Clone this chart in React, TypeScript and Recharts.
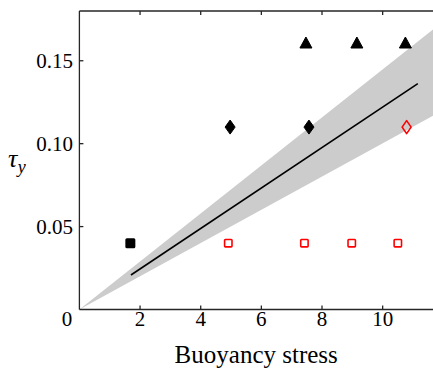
import React from 'react';
import { ComposedChart, XAxis, YAxis, Scatter, Line, Area } from 'recharts';

const xTicks = [0, 2, 4, 6, 8, 10];
const xTopTicks = [2, 4, 6, 8, 10];
const yTicks = [0.05, 0.1, 0.15];

const blackSquares = [{ x: 1.68, y: 0.04 }];
const blackDiamonds = [
  { x: 4.97, y: 0.11 },
  { x: 7.57, y: 0.11 },
];
const blackTriangles = [
  { x: 7.47, y: 0.161 },
  { x: 9.15, y: 0.161 },
  { x: 10.75, y: 0.161 },
];
const redSquares = [
  { x: 4.91, y: 0.04 },
  { x: 7.42, y: 0.04 },
  { x: 8.98, y: 0.04 },
  { x: 10.5, y: 0.04 },
];
const redDiamonds = [{ x: 10.79, y: 0.11 }];

const fitLine = [
  { x: 1.7, y: 0.0208 },
  { x: 11.16, y: 0.1362 },
];
const band = [
  { x: 0, range: [0, 0] },
  { x: 11.66, range: [0.1168, 0.1688] },
];

const AX = '#262626';
const FONT = "Liberation Serif, Tinos, Times New Roman, serif";

const FilledSquare = (p: any) => (
  <rect x={p.cx - 5} y={p.cy - 5} width={10} height={10} rx={1.5} fill="#000" />
);
const FilledDiamond = (p: any) => (
  <path
    d={`M${p.cx},${p.cy - 7} L${p.cx + 5},${p.cy} L${p.cx},${p.cy + 7} L${p.cx - 5},${p.cy} Z`}
    fill="#000"
    stroke="#000"
    strokeLinejoin="round"
  />
);
const FilledTriangle = (p: any) => (
  <path
    d={`M${p.cx},${p.cy - 5.5} L${p.cx + 6},${p.cy + 5.5} L${p.cx - 6},${p.cy + 5.5} Z`}
    fill="#000"
    stroke="#000"
    strokeLinejoin="round"
  />
);
const OpenSquare = (p: any) => (
  <rect x={p.cx - 3.7} y={p.cy - 3.7} width={7.4} height={7.4} rx={0.8} fill="none" stroke="#ff0000" strokeWidth={1.6} />
);
const OpenDiamond = (p: any) => (
  <path
    d={`M${p.cx},${p.cy - 6.5} L${p.cx + 4.5},${p.cy} L${p.cx},${p.cy + 6.5} L${p.cx - 4.5},${p.cy} Z`}
    fill="none"
    stroke="#ff0000"
    strokeWidth={1.6}
    strokeLinejoin="round"
  />
);

const BottomTick = (props: any) => {
  const { x, y, payload } = props;
  const v = payload.value;
  return (
    <g>
      {v !== 0 && <line x1={x} y1={y} x2={x} y2={y - 4} stroke={AX} strokeWidth={1.3} />}
      <text
        x={v === 0 ? x - 12.3 : x}
        y={y + 9.5}
        dy="0.35em"
        textAnchor="middle"
        fontFamily={FONT}
        fontSize={21}
        fill="#000"
      >
        {v}
      </text>
    </g>
  );
};

const TopTick = (props: any) => {
  const { x, y } = props;
  return <line x1={x} y1={y} x2={x} y2={y + 4} stroke={AX} strokeWidth={1.3} />;
};

const LeftTick = (props: any) => {
  const { x, y, payload } = props;
  return (
    <g>
      <line x1={x} y1={y} x2={x + 4} y2={y} stroke={AX} strokeWidth={1.3} />
      <text x={x - 6.5} y={y} dy="0.35em" textAnchor="end" fontFamily={FONT} fontSize={21} fill="#000">
        {Number(payload.value).toFixed(2)}
      </text>
    </g>
  );
};

export default function App() {
  return (
    <div style={{ position: 'absolute', left: 0, top: 0, width: 433, height: 370, background: '#fff' }}>
      <ComposedChart width={433} height={370} margin={{ top: 0, right: 0, bottom: 0, left: 0 }}>
        <XAxis
          xAxisId="bottom"
          type="number"
          dataKey="x"
          domain={[0, 11.66]}
          allowDataOverflow
          ticks={xTicks}
          orientation="bottom"
          height={60.5}
          tickSize={0}
          tickMargin={0}
          tickLine={false}
          tick={BottomTick}
          axisLine={{ stroke: AX, strokeWidth: 1.3 }}
          label={{
            value: 'Buoyancy stress',
            position: 'insideBottom',
            offset: 7,
            style: { fontFamily: FONT, fontSize: 25, fill: '#000' },
          }}
        />
        <XAxis
          xAxisId="top"
          type="number"
          dataKey="x"
          domain={[0, 11.66]}
          allowDataOverflow
          ticks={xTopTicks}
          orientation="top"
          height={11}
          tickSize={0}
          tickMargin={0}
          tickLine={false}
          tick={TopTick}
          axisLine={{ stroke: AX, strokeWidth: 1.3 }}
        />
        <YAxis
          type="number"
          domain={[0, 0.18]}
          allowDataOverflow
          ticks={yTicks}
          width={79.4}
          tickSize={0}
          tickMargin={0}
          tickLine={false}
          tick={LeftTick}
          axisLine={{ stroke: AX, strokeWidth: 1.3 }}
          label={{
            content: () => (
              <text x={8} y={167} fontFamily={FONT} fontStyle="italic" fill="#000">
                <tspan fontSize={26}>τ</tspan>
                <tspan fontSize={18} dx={0.5} dy={6}>y</tspan>
              </text>
            ),
          }}
        />
        <Area
          xAxisId="bottom"
          data={band}
          dataKey="range"
          type="linear"
          fill="#cccccc"
          fillOpacity={1}
          stroke="none"
          isAnimationActive={false}
        />
        <Line
          xAxisId="bottom"
          data={fitLine}
          dataKey="y"
          type="linear"
          stroke="#000"
          strokeWidth={1.6}
          dot={false}
          activeDot={false}
          isAnimationActive={false}
        />
        <Scatter xAxisId="bottom" data={blackSquares} dataKey="y" shape={FilledSquare} isAnimationActive={false} />
        <Scatter xAxisId="bottom" data={blackDiamonds} dataKey="y" shape={FilledDiamond} isAnimationActive={false} />
        <Scatter xAxisId="bottom" data={blackTriangles} dataKey="y" shape={FilledTriangle} isAnimationActive={false} />
        <Scatter xAxisId="bottom" data={redSquares} dataKey="y" shape={OpenSquare} isAnimationActive={false} />
        <Scatter xAxisId="bottom" data={redDiamonds} dataKey="y" shape={OpenDiamond} isAnimationActive={false} />
      </ComposedChart>
    </div>
  );
}
